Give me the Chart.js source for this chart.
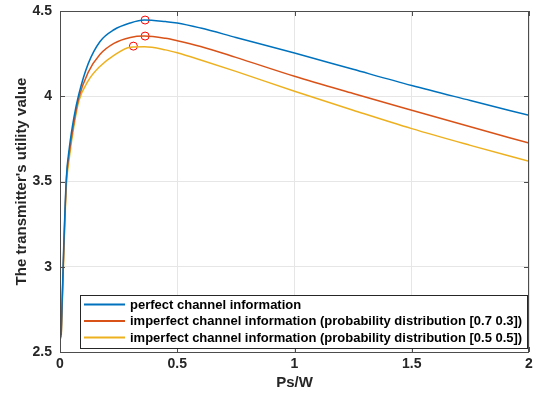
<!DOCTYPE html>
<html>
<head>
<meta charset="utf-8">
<script src="https://cdn.jsdelivr.net/npm/chart.js@4.4.0/dist/chart.umd.min.js"></script>
<style>
  html, body { margin: 0; padding: 0; background: #fff; }
  #wrap { width: 536px; height: 393px; }
</style>
</head>
<body>
<div id="wrap"><canvas id="utilityChart"></canvas></div>
<script>
// --- data ---
const psW = [0.005, 0.015, 0.027, 0.04, 0.06, 0.08, 0.12, 0.17, 0.23, 0.30, 0.36, 0.45, 0.5, 0.6, 0.75, 1.0, 1.25, 1.5, 1.75, 2.0];
const perfect     = [2.60, 3.08, 3.52, 3.70, 3.88, 4.01, 4.19, 4.32, 4.39, 4.43, 4.447, 4.438, 4.43, 4.40, 4.345, 4.254, 4.158, 4.063, 3.975, 3.888];
const imperfect73 = [2.59, 3.05, 3.50, 3.67, 3.85, 3.99, 4.14, 4.245, 4.31, 4.345, 4.353, 4.34, 4.326, 4.292, 4.228, 4.117, 4.016, 3.918, 3.821, 3.725];
const imperfect55 = [2.58, 3.02, 3.47, 3.64, 3.83, 3.97, 4.09, 4.175, 4.24, 4.288, 4.29, 4.272, 4.255, 4.213, 4.146, 4.029, 3.918, 3.81, 3.712, 3.618];
const peakX = [0.363, 0.363, 0.313];
const peakY = [4.447, 4.353, 4.294];
const xTicks = [0, 0.5, 1, 1.5, 2];
const yTicks = [2.5, 3, 3.5, 4, 4.5];
const seriesNames = [
    'perfect channel information',
    'imperfect channel information (probability distribution [0.7 0.3])',
    'imperfect channel information (probability distribution [0.5 0.5])'
];
const seriesColors = ['#0072BD', '#D95319', '#EDB120'];

const FONT = "'Liberation Sans', Arial, Helvetica, sans-serif";
const toPoints = ys => psW.map((x, i) => ({ x: x, y: ys[i] }));

// box, inward ticks and legend inside the axes, MATLAB style
const matlabFrame = {
    id: 'matlabFrame',
    afterDraw(chart) {
        const { ctx, chartArea: a, scales } = chart;
        ctx.save();
        ctx.strokeStyle = '#4d4d4d';
        ctx.lineWidth = 1;
        ctx.strokeRect(a.left + 0.5, a.top + 0.5, a.right - a.left - 1, a.bottom - a.top);
        ctx.beginPath();
        xTicks.forEach(v => {
            const px = Math.round(scales.x.getPixelForValue(v)) + 0.5;
            ctx.moveTo(px, a.bottom); ctx.lineTo(px, a.bottom - 5);
            ctx.moveTo(px, a.top); ctx.lineTo(px, a.top + 5);
        });
        yTicks.forEach(v => {
            const py = Math.round(scales.y.getPixelForValue(v)) + 0.5;
            ctx.moveTo(a.left, py); ctx.lineTo(a.left + 5, py);
            ctx.moveTo(a.right, py); ctx.lineTo(a.right - 5, py);
        });
        ctx.stroke();

        // legend
        const bx = 80, by = 295, bw = 447, bh = 53;
        ctx.fillStyle = '#fff';
        ctx.fillRect(bx, by, bw, bh);
        ctx.strokeStyle = '#262626';
        ctx.strokeRect(bx + 0.5, by + 0.5, bw, bh);
        ctx.font = 'bold 13px ' + FONT;
        ctx.textBaseline = 'middle';
        ctx.fillStyle = '#000';
        seriesNames.forEach((name, i) => {
            const ry = by + 9.5 + i * 16.5;
            ctx.strokeStyle = seriesColors[i];
            ctx.lineWidth = 2;
            ctx.beginPath();
            ctx.moveTo(84, ry); ctx.lineTo(125, ry);
            ctx.stroke();
            ctx.fillText(name, 130, ry + 0.5);
        });
        ctx.restore();
    }
};

const lineSet = (i, ys) => ({
    label: seriesNames[i],
    data: toPoints(ys),
    borderColor: seriesColors[i],
    borderWidth: 1.5,
    pointRadius: 0,
    cubicInterpolationMode: 'monotone',
    fill: false
});

new Chart(document.getElementById('utilityChart').getContext('2d'), {
    type: 'line',
    data: {
        datasets: [
            lineSet(0, perfect),
            lineSet(1, imperfect73),
            lineSet(2, imperfect55),
            {
                label: 'peaks',
                type: 'scatter',
                data: peakX.map((x, i) => ({ x: x, y: peakY[i] })),
                showLine: false,
                pointStyle: 'circle',
                pointRadius: 4,
                borderColor: '#ff0000',
                borderWidth: 1,
                backgroundColor: 'rgba(0,0,0,0)'
            }
        ]
    },
    options: {
        responsive: true,
        maintainAspectRatio: false,
        animation: false,
        layout: { padding: { left: 0, top: 11, right: 7, bottom: 0 } },
        plugins: { legend: { display: false }, tooltip: { enabled: false } },
        scales: {
            x: {
                type: 'linear',
                min: 0, max: 2,
                afterFit: s => { s.height = 41; s.paddingLeft = 0; s.paddingRight = 0; },
                afterBuildTicks: s => { s.ticks = xTicks.map(v => ({ value: v })); },
                grid: { color: '#e6e6e6', drawTicks: false },
                border: { display: false },
                ticks: { color: '#262626', padding: 4, font: { family: FONT, size: 14, weight: 'bold' },
                         callback: v => String(v) },
                title: { display: true, text: 'Ps/W', color: '#262626', padding: { top: 0, bottom: 1 },
                         font: { family: FONT, size: 15, weight: 'bold' } }
            },
            y: {
                min: 2.5, max: 4.5,
                afterFit: s => { s.width = 60; s.paddingTop = 0; s.paddingBottom = 0; },
                afterBuildTicks: s => { s.ticks = yTicks.map(v => ({ value: v })); },
                grid: { color: '#e6e6e6', drawTicks: false },
                border: { display: false },
                ticks: { color: '#262626', padding: 8, font: { family: FONT, size: 14, weight: 'bold' },
                         callback: v => String(v) },
                title: { display: true, text: "The transmitter's utility value", color: '#262626',
                         padding: { top: 13, bottom: 0 },
                         font: { family: FONT, size: 15, weight: 'bold' } }
            }
        }
    },
    plugins: [matlabFrame]
});
</script>
</body>
</html>
